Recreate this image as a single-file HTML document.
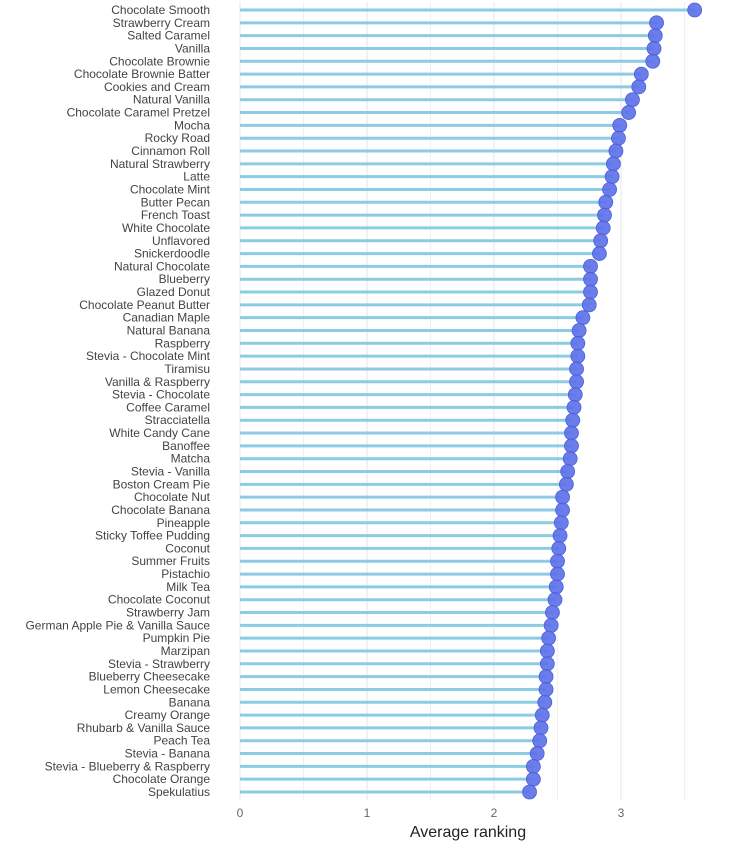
<!DOCTYPE html>
<html><head><meta charset="utf-8"><style>
body{margin:0;background:#fff;}
svg{font-family:"Liberation Sans",sans-serif;}
</style></head><body>
<svg id="chart" width="742" height="850" xmlns="http://www.w3.org/2000/svg"></svg>
<script>
const categories=["Chocolate Smooth","Strawberry Cream","Salted Caramel","Vanilla","Chocolate Brownie","Chocolate Brownie Batter","Cookies and Cream","Natural Vanilla","Chocolate Caramel Pretzel","Mocha","Rocky Road","Cinnamon Roll","Natural Strawberry","Latte","Chocolate Mint","Butter Pecan","French Toast","White Chocolate","Unflavored","Snickerdoodle","Natural Chocolate","Blueberry","Glazed Donut","Chocolate Peanut Butter","Canadian Maple","Natural Banana","Raspberry","Stevia - Chocolate Mint","Tiramisu","Vanilla & Raspberry","Stevia - Chocolate","Coffee Caramel","Stracciatella","White Candy Cane","Banoffee","Matcha","Stevia - Vanilla","Boston Cream Pie","Chocolate Nut","Chocolate Banana","Pineapple","Sticky Toffee Pudding","Coconut","Summer Fruits","Pistachio","Milk Tea","Chocolate Coconut","Strawberry Jam","German Apple Pie & Vanilla Sauce","Pumpkin Pie","Marzipan","Stevia - Strawberry","Blueberry Cheesecake","Lemon Cheesecake","Banana","Creamy Orange","Rhubarb & Vanilla Sauce","Peach Tea","Stevia - Banana","Stevia - Blueberry & Raspberry","Chocolate Orange","Spekulatius"];
const values=[3.58,3.28,3.27,3.26,3.25,3.16,3.14,3.09,3.06,2.99,2.98,2.96,2.94,2.93,2.91,2.88,2.87,2.86,2.84,2.83,2.76,2.76,2.76,2.75,2.70,2.67,2.66,2.66,2.65,2.65,2.64,2.63,2.62,2.61,2.61,2.60,2.58,2.57,2.54,2.54,2.53,2.52,2.51,2.50,2.50,2.49,2.48,2.46,2.45,2.43,2.42,2.42,2.41,2.41,2.40,2.38,2.37,2.36,2.34,2.31,2.31,2.28];
const ticks=[0,1,2,3];
const NS="http://www.w3.org/2000/svg";
const svg=document.getElementById('chart');
const x0=240,pxPerUnit=127,yTop=10,yBot=792,plotTop=2,plotBot=800;
const xs=v=>x0+v*pxPerUnit;
const ys=i=>yTop+i*(yBot-yTop)/(categories.length-1);
function mk(tag,attrs){const e=document.createElementNS(NS,tag);for(const k in attrs)e.setAttribute(k,attrs[k]);svg.appendChild(e);return e;}
// gridlines
for(let g=0;g<=7;g++){
  const l=mk('line',{x1:xs(g/2),x2:xs(g/2),y1:plotTop,y2:plotBot,stroke:g%2?'#f0f0f0':'#e4e4e4','stroke-width':1});
  
  
}
ticks.forEach(t=>{
  const tx=mk('text',{x:xs(t),y:817,'text-anchor':'middle','font-size':12,fill:'#666'});
  tx.textContent=t;
  
  
});
const title=mk('text',{x:468,y:837,'text-anchor':'middle','font-size':16,fill:'#222'});
title.textContent='Average ranking';


categories.forEach((c,i)=>{
  const y=ys(i);
  const lab=mk('text',{x:210,y:y+4,'text-anchor':'end','font-size':12,fill:'#444'});
  lab.textContent=c;
  
  
  const st=mk('line',{x1:xs(0),x2:xs(values[i]),y1:y,y2:y,stroke:'#8ccbe3','stroke-width':3});
  
  
  const d=mk('circle',{cx:xs(values[i]),cy:y,r:7,fill:'#5b6fe8','fill-opacity':0.9,stroke:'#4b5fd8','stroke-width':0.8});
  
  
});
</script>
</body></html>
